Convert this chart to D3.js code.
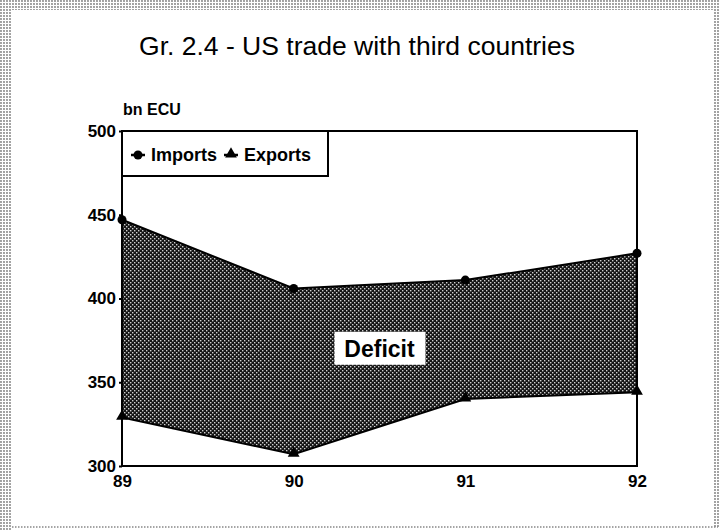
<!DOCTYPE html>
<html>
<head>
<meta charset="utf-8">
<script src="https://cdn.jsdelivr.net/npm/d3@7"></script>
<style>
  body { margin: 0; background: #fff; }
  svg { display: block; }
  text { font-family: "Liberation Sans", Arial, Helvetica, sans-serif; fill: #000; }
</style>
</head>
<body>
<svg id="chart"></svg>
<script>
const width = 722;
const height = 530;

const years = ["89", "90", "91", "92"];
const imports = [447, 406, 411, 427];
const exports = [329, 307, 340, 344];
const yTicks = [300, 350, 400, 450, 500];

const margin = { top: 131, right: 85, bottom: 64, left: 122 };

const svg = d3.select("#chart")
    .attr("width", width)
    .attr("height", height);

const defs = svg.append("defs");

// halftone fill for the deficit area
const dots = defs.append("pattern")
    .attr("id", "halftone")
    .attr("width", 4)
    .attr("height", 4)
    .attr("patternUnits", "userSpaceOnUse");
dots.append("rect").attr("width", 4).attr("height", 4).attr("fill", "#151515");
dots.append("rect").attr("x", 0).attr("y", 0).attr("width", 1.4).attr("height", 1.4).attr("fill", "#cfcfcf");
dots.append("rect").attr("x", 2).attr("y", 2).attr("width", 1.4).attr("height", 1.4).attr("fill", "#cfcfcf");

// light halftone for the page frame
const frame = defs.append("pattern")
    .attr("id", "frame")
    .attr("width", 3)
    .attr("height", 3)
    .attr("patternUnits", "userSpaceOnUse");
frame.append("rect").attr("width", 3).attr("height", 3).attr("fill", "#fff");
frame.append("circle").attr("cx", 1).attr("cy", 1).attr("r", 0.9).attr("fill", "#777");

svg.append("rect").attr("x", 0).attr("y", 0).attr("width", 718).attr("height", 10).attr("fill", "url(#frame)");
svg.append("rect").attr("x", 0).attr("y", 0).attr("width", 12).attr("height", 530).attr("fill", "url(#frame)");
svg.append("rect").attr("x", 713).attr("y", 0).attr("width", 6).attr("height", 528).attr("fill", "url(#frame)");
svg.append("line")
    .attr("x1", 12).attr("x2", 718).attr("y1", 527).attr("y2", 527)
    .attr("stroke", "#888").attr("stroke-width", 1.5).attr("stroke-dasharray", "1.5,1.5");

const x = d3.scalePoint()
    .domain(years)
    .range([margin.left, width - margin.right]);

const y = d3.scaleLinear()
    .domain([300, 500])
    .range([height - margin.bottom, margin.top]);

// title
svg.append("text")
    .attr("x", 357)
    .attr("y", 55)
    .attr("text-anchor", "middle")
    .attr("font-size", "26.5px")
    .text("Gr. 2.4 - US trade with third countries");

svg.append("text")
    .attr("x", margin.left + 1)
    .attr("y", 115)
    .attr("font-size", "16px")
    .attr("font-weight", "bold")
    .text("bn ECU");

// deficit area between imports and exports
const area = d3.area()
    .x((d, i) => x(years[i]))
    .y0((d, i) => y(exports[i]))
    .y1((d, i) => y(imports[i]));

svg.append("path")
    .datum(imports)
    .attr("d", area)
    .attr("fill", "url(#halftone)")
    .attr("stroke", "#000")
    .attr("stroke-width", 2);

// plot frame
svg.append("rect")
    .attr("x", margin.left)
    .attr("y", margin.top)
    .attr("width", width - margin.right - margin.left)
    .attr("height", height - margin.bottom - margin.top)
    .attr("fill", "none")
    .attr("stroke", "#000")
    .attr("stroke-width", 2);

// axes
const yAxis = svg.append("g")
    .attr("transform", `translate(${margin.left},0)`)
    .call(d3.axisLeft(y).tickValues(yTicks).tickSize(3).tickPadding(3));

const xAxis = svg.append("g")
    .attr("transform", `translate(0,${height - margin.bottom})`)
    .call(d3.axisBottom(x).tickSize(0).tickPadding(9));

[yAxis, xAxis].forEach(g => {
    g.select(".domain").remove();
    g.selectAll("line").attr("stroke", "#000").attr("stroke-width", 2);
    g.selectAll("text")
        .attr("font-size", "17px")
        .attr("font-weight", "bold")
        .attr("font-family", "Liberation Sans, Arial, sans-serif");
});

// markers
const triangle = d3.symbol().type(d3.symbolTriangle).size(60);

svg.append("g")
    .selectAll("circle")
    .data(imports)
    .join("circle")
    .attr("cx", (d, i) => x(years[i]))
    .attr("cy", d => y(d))
    .attr("r", 4.5)
    .attr("fill", "#000");

svg.append("g")
    .selectAll("path")
    .data(exports)
    .join("path")
    .attr("d", triangle)
    .attr("transform", (d, i) => `translate(${x(years[i])},${y(d) - 1})`)
    .attr("fill", "#000");

// deficit label
const labelX = (x("90") + x("91")) / 2;
const labelY = y(370);
svg.append("rect")
    .attr("x", labelX - 45)
    .attr("y", labelY - 17)
    .attr("width", 91)
    .attr("height", 33)
    .attr("fill", "#fff");
svg.append("text")
    .attr("x", labelX)
    .attr("y", labelY + 8)
    .attr("text-anchor", "middle")
    .attr("font-size", "23px")
    .attr("font-weight", "bold")
    .text("Deficit");

// legend
const legend = svg.append("g");
legend.append("rect")
    .attr("x", margin.left)
    .attr("y", margin.top)
    .attr("width", 206)
    .attr("height", 45)
    .attr("fill", "#fff")
    .attr("stroke", "#000")
    .attr("stroke-width", 2);

const legendItems = [
    { label: "Imports", x: 131, shape: "circle" },
    { label: "Exports", x: 224, shape: "triangle" }
];
const legendY = 155;

legendItems.forEach(item => {
    legend.append("line")
        .attr("x1", item.x).attr("x2", item.x + 14)
        .attr("y1", legendY).attr("y2", legendY)
        .attr("stroke", "#000").attr("stroke-width", 2.5);
    if (item.shape === "circle") {
        legend.append("circle")
            .attr("cx", item.x + 7).attr("cy", legendY).attr("r", 4.5).attr("fill", "#000");
    } else {
        legend.append("path")
            .attr("d", triangle)
            .attr("transform", `translate(${item.x + 7},${legendY - 1})`)
            .attr("fill", "#000");
    }
    legend.append("text")
        .attr("x", item.x + 20)
        .attr("y", legendY + 6)
        .attr("font-size", "18px")
        .attr("font-weight", "bold")
        .text(item.label);
});
</script>
</body>
</html>
